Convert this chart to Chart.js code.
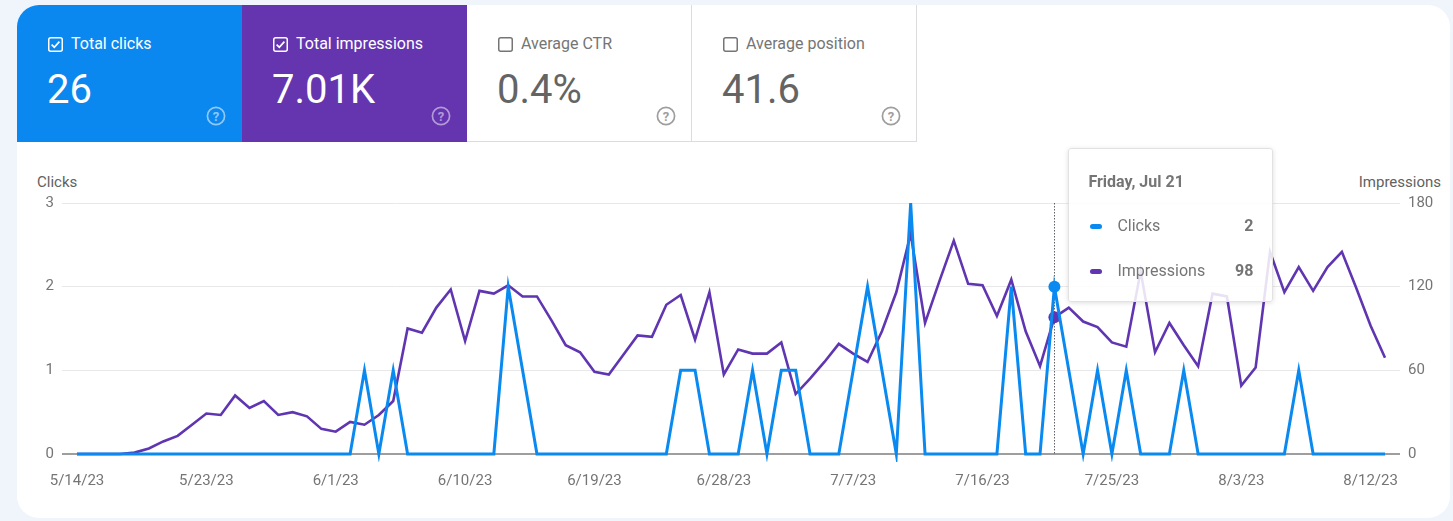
<!DOCTYPE html>
<html>
<head>
<meta charset="utf-8">
<title>Performance</title>
<script src="https://cdn.jsdelivr.net/npm/chart.js@4.4.0/dist/chart.umd.min.js"></script>
<style>
  html, body { margin: 0; padding: 0; }
  body { width: 1453px; height: 521px; background: #f0f5fc; font-family: Roboto, "Noto Sans", sans-serif; overflow: hidden; position: relative; }
  .card { position: absolute; left: 17px; top: 5px; width: 1433px; height: 513px; background: #fff; border-radius: 22px; overflow: hidden; }
  .tile { position: absolute; top: 0; width: 225px; height: 137px; box-sizing: border-box; }
  .tile.clicks { left: 0; background: #0a88ef; color: #fff; }
  .tile.impr { left: 225px; background: #6535b0; color: #fff; }
  .tile.ctr { left: 450px; }
  .tile.pos { left: 675px; }
  .tile.off { color: #757575; border-right: 1px solid #dadce0; border-bottom: 1px solid #dadce0; }
  .tile.off .num { color: #646464; }
  .tile .box { position: absolute; left: 31px; top: 32px; width: 15px; height: 15px; }
  .tile .lbl { position: absolute; left: 54px; top: 29px; font-size: 16px; line-height: 20px; white-space: nowrap; }
  .tile .num { position: absolute; left: 30px; top: 61px; font-size: 40px; line-height: 48px; white-space: nowrap; }
  .tile .help { position: absolute; left: 189px; top: 101px; width: 20px; height: 20px; }
  .axis-title { position: absolute; top: 168px; font-size: 15px; line-height: 18px; color: #616161; }
  #wrap { position: absolute; left: 0; top: 145px; width: 1428px; height: 350px; }
  #tip { position: absolute; top: 143px; width: 205px; height: 154px; box-sizing: border-box; background: rgba(255,255,255,0.86);
         border: 1px solid #e2e2e2; border-radius: 3px; box-shadow: 0 1px 5px rgba(0,0,0,0.13); color: #757575; display: none; }
  #tip .t { position: absolute; left: 19px; top: 23px; font-size: 16px; font-weight: 700; line-height: 20px; white-space: nowrap; }
  #tip .row { position: absolute; left: 0; right: 0; height: 20px; font-size: 16px; line-height: 20px; }
  #tip .mk { position: absolute; left: 21px; top: 8px; width: 12px; height: 5px; border-radius: 3px; }
  #tip .nm { position: absolute; left: 48px; top: 0; }
  #tip .vl { position: absolute; right: 19px; top: 0; font-weight: 700; }
</style>
</head>
<body>
<div class="card">
  <div class="tile clicks">
    <svg class="box" viewBox="0 0 15 15"><rect x="0.75" y="0.75" width="13.5" height="13.5" rx="2" fill="none" stroke="#fff" stroke-width="1.5"/><polyline points="3.6,7.6 6.3,10.2 11.4,4.6" fill="none" stroke="#fff" stroke-width="1.7"/></svg>
    <div class="lbl">Total clicks</div>
    <div class="num">26</div>
    <svg class="help" viewBox="0 0 20 20"><circle cx="10" cy="10" r="8.6" fill="none" stroke="rgba(255,255,255,0.55)" stroke-width="1.7"/><text x="10" y="14.8" text-anchor="middle" font-size="13" font-weight="700" fill="rgba(255,255,255,0.55)" font-family="Roboto">?</text></svg>
  </div>
  <div class="tile impr">
    <svg class="box" viewBox="0 0 15 15"><rect x="0.75" y="0.75" width="13.5" height="13.5" rx="2" fill="none" stroke="#fff" stroke-width="1.5"/><polyline points="3.6,7.6 6.3,10.2 11.4,4.6" fill="none" stroke="#fff" stroke-width="1.7"/></svg>
    <div class="lbl">Total impressions</div>
    <div class="num">7.01K</div>
    <svg class="help" viewBox="0 0 20 20"><circle cx="10" cy="10" r="8.6" fill="none" stroke="rgba(255,255,255,0.5)" stroke-width="1.7"/><text x="10" y="14.8" text-anchor="middle" font-size="13" font-weight="700" fill="rgba(255,255,255,0.5)" font-family="Roboto">?</text></svg>
  </div>
  <div class="tile ctr off">
    <svg class="box" viewBox="0 0 15 15"><rect x="0.75" y="0.75" width="13.5" height="13.5" rx="2" fill="none" stroke="#757575" stroke-width="1.5"/></svg>
    <div class="lbl">Average CTR</div>
    <div class="num">0.4%</div>
    <svg class="help" viewBox="0 0 20 20"><circle cx="10" cy="10" r="8.6" fill="none" stroke="#9e9e9e" stroke-width="1.7"/><text x="10" y="14.8" text-anchor="middle" font-size="13" font-weight="700" fill="#9e9e9e" font-family="Roboto">?</text></svg>
  </div>
  <div class="tile pos off">
    <svg class="box" viewBox="0 0 15 15"><rect x="0.75" y="0.75" width="13.5" height="13.5" rx="2" fill="none" stroke="#757575" stroke-width="1.5"/></svg>
    <div class="lbl">Average position</div>
    <div class="num">41.6</div>
    <svg class="help" viewBox="0 0 20 20"><circle cx="10" cy="10" r="8.6" fill="none" stroke="#9e9e9e" stroke-width="1.7"/><text x="10" y="14.8" text-anchor="middle" font-size="13" font-weight="700" fill="#9e9e9e" font-family="Roboto">?</text></svg>
  </div>

  <div class="axis-title" style="left:20px">Clicks</div>
  <div class="axis-title" style="right:9px">Impressions</div>

  <div id="wrap"><canvas id="chart" width="1428" height="350"></canvas></div>
  <div id="tip"></div>
</div>

<script>
// daily data, 5/14/23 .. 8/13/23
const startDate = new Date(2023, 4, 14);
const dayCount = 92;

const clicks = [
  0, 0, 0, 0, 0, 0, 0, 0, 0, 0,
  0, 0, 0, 0, 0, 0, 0, 0, 0, 0,
  1, 0, 1, 0, 0, 0, 0, 0, 0, 0,
  2, 1, 0, 0, 0, 0, 0, 0, 0, 0,
  0, 0, 1, 1, 0, 0, 0, 1, 0, 1,
  1, 0, 0, 0, 1, 2, 1, 0, 3, 0,
  0, 0, 0, 0, 0, 2, 0, 0, 2, 1,
  0, 1, 0, 1, 0, 0, 0, 1, 0, 0,
  0, 0, 0, 0, 0, 1, 0, 0, 0, 0,
  0, 0
];

const impressions = [
  0, 0, 0, 0, 1, 4, 9, 13, 21, 29,
  28, 42, 33, 38, 28, 30, 27, 18, 16, 23,
  21, 28, 38, 90, 87, 105, 118, 81, 117, 115,
  121, 113, 113, 96, 78, 73, 59, 57, 71, 85,
  84, 107, 114, 82, 116, 57, 75, 72, 72, 80,
  43, 54, 66, 79, 72, 66, 88, 116, 158, 94,
  124, 153, 122, 121, 99, 125, 88, 63, 98, 105,
  95, 91, 80, 77, 131, 73, 94, 78, 63, 115,
  113, 49, 62, 145, 116, 134, 117, 134, 145, 119,
  92, 69
];

const xTickIndex = [0, 9, 18, 27, 36, 45, 54, 63, 72, 81, 90];
const clickTicks = [0, 1, 2, 3];
const impressionTicks = [0, 60, 120, 180];
const hoverIndex = 68;

const blue = "#0a8af0";
const purple = "#5f35b1";

const days = [];
const labels = [];
for (let i = 0; i < dayCount; i++) {
  const d = new Date(startDate.getFullYear(), startDate.getMonth(), startDate.getDate() + i);
  days.push(d);
  labels.push((d.getMonth() + 1) + "/" + d.getDate() + "/" + String(d.getFullYear()).slice(2));
}

const pad = 1.0436; // space before first / after last day, in days

function externalTip(context) {
  const tip = document.getElementById("tip");
  const t = context.tooltip;
  if (!t || t.opacity === 0 || !t.dataPoints || !t.dataPoints.length) {
    tip.style.display = "none";
    return;
  }
  const x = t.dataPoints[0].element.x;
  let html = '<div class="t">' + (t.title || []).join(" ") + "</div>";
  const tops = [67, 112];
  t.dataPoints.forEach((p, k) => {
    html += '<div class="row" style="top:' + tops[k] + 'px">' +
      '<div class="mk" style="background:' + p.dataset.borderColor + '"></div>' +
      '<div class="nm">' + p.dataset.label + "</div>" +
      '<div class="vl">' + p.formattedValue + "</div></div>";
  });
  tip.innerHTML = html;
  tip.style.left = (x + 14) + "px";
  tip.style.display = "block";
}

const hoverLine = {
  id: "hoverLine",
  beforeDatasetsDraw(chart) {
    const act = chart.getActiveElements();
    if (!act.length) return;
    const x = Math.round(act[0].element.x) + 0.5;
    const area = chart.chartArea;
    const ctx = chart.ctx;
    ctx.save();
    ctx.strokeStyle = "#5f6368";
    ctx.lineWidth = 1;
    ctx.setLineDash([1.5, 1.5]);
    ctx.beginPath();
    ctx.moveTo(x, area.top);
    ctx.lineTo(x, area.bottom);
    ctx.stroke();
    ctx.restore();
  }
};

const tickFont = { family: "Roboto", size: 15 };

const chart = new Chart(document.getElementById("chart"), {
  type: "line",
  data: {
    datasets: [
      {
        label: "Clicks",
        data: clicks.map((v, i) => ({ x: i, y: v })),
        yAxisID: "y",
        borderColor: blue,
        backgroundColor: blue,
        borderWidth: 3,
        pointRadius: 0,
        pointHoverRadius: 6,
        pointHoverBorderWidth: 0,
        pointHoverBackgroundColor: blue,
        tension: 0,
        clip: 8
      },
      {
        label: "Impressions",
        data: impressions.map((v, i) => ({ x: i, y: v })),
        yAxisID: "y1",
        borderColor: purple,
        backgroundColor: purple,
        borderWidth: 2.6,
        pointRadius: 0,
        pointHoverRadius: 6,
        pointHoverBorderWidth: 0,
        pointHoverBackgroundColor: purple,
        tension: 0,
        clip: 8
      }
    ]
  },
  options: {
    responsive: false,
    animation: false,
    events: [],
    layout: { padding: { top: 53, left: 0, right: 0, bottom: 0 } },
    plugins: {
      legend: { display: false },
      tooltip: {
        enabled: false,
        external: externalTip,
        callbacks: {
          title: (items) => days[items[0].parsed.x].toLocaleDateString("en-US", { weekday: "long", month: "short", day: "numeric" })
        }
      }
    },
    scales: {
      x: {
        type: "linear",
        min: -pad,
        max: dayCount - 1 + pad,
        grid: { display: false },
        border: { display: false },
        afterBuildTicks: (s) => { s.ticks = xTickIndex.map((v) => ({ value: v })); },
        afterFit: (s) => { s.height = 46; },
        ticks: {
          autoSkip: false,
          maxRotation: 0,
          padding: 10,
          color: "#757575",
          font: tickFont,
          callback: (v) => labels[v]
        }
      },
      y: {
        position: "left",
        min: 0,
        max: 3,
        afterBuildTicks: (s) => { s.ticks = clickTicks.map((v) => ({ value: v })); },
        afterFit: (s) => { s.width = 45; },
        border: { display: false },
        grid: {
          drawTicks: false,
          color: (c) => (c.tick && c.tick.value === 0 ? "#9e9e9e" : "#e8e8e8"),
          lineWidth: (c) => (c.tick && c.tick.value === 0 ? 2 : 1)
        },
        ticks: { padding: 8, color: "#757575", font: tickFont }
      },
      y1: {
        position: "right",
        min: 0,
        max: 180,
        afterBuildTicks: (s) => { s.ticks = impressionTicks.map((v) => ({ value: v })); },
        afterFit: (s) => { s.width = 45; },
        border: { display: false },
        grid: { display: false, drawTicks: false },
        ticks: { padding: 8, color: "#757575", font: tickFont }
      }
    }
  },
  plugins: [hoverLine]
});

const active = [
  { datasetIndex: 0, index: hoverIndex },
  { datasetIndex: 1, index: hoverIndex }
];
chart.setActiveElements(active);
chart.tooltip.setActiveElements(active, { x: 0, y: 0 });
chart.update();
</script>
</body>
</html>
